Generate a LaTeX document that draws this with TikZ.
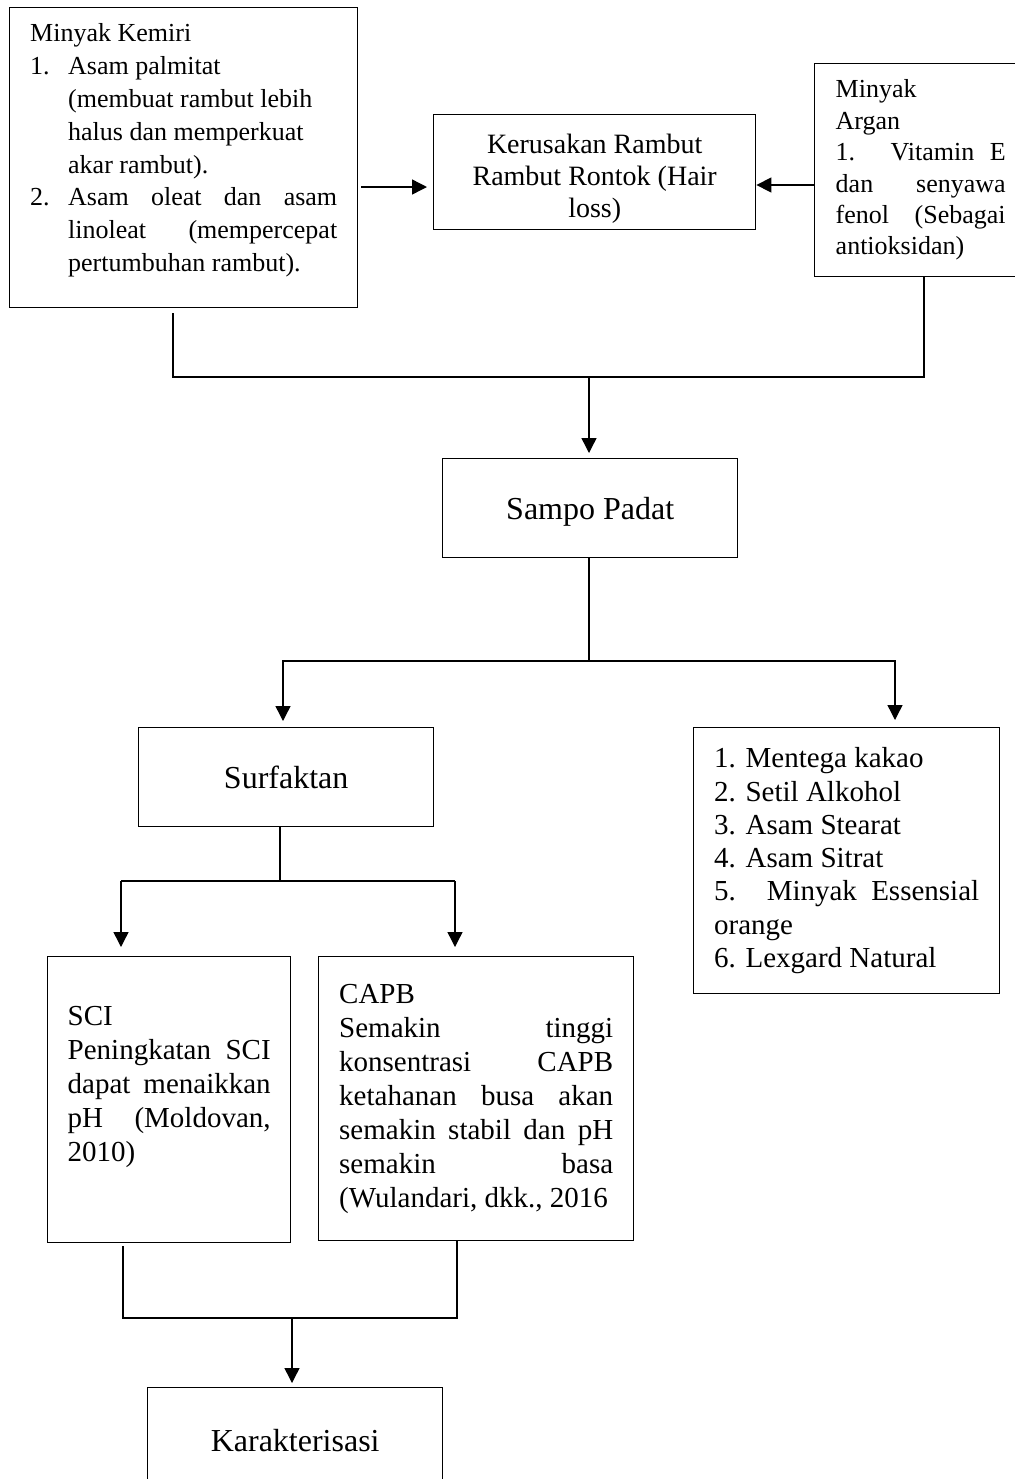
\documentclass[tikz,border=0pt]{standalone}
\usepackage{fontspec}
\setmainfont{Liberation Serif}
\usetikzlibrary{arrows.meta}
\setlength{\parindent}{0pt}

\begin{document}
\begin{tikzpicture}[x=0.5pt, y=-0.5pt,
	box/.style={draw, line width=0.7pt, anchor=north west, inner sep=0pt},
	line/.style={line width=0.7pt},
	arr/.style={line width=0.7pt, -{Triangle[length=7.5pt,width=7.5pt]}}]
	\useasboundingbox (0,0) rectangle (1015,1479);
	\clip (0,0) rectangle (1015,1479);
	% top row
	\node[box, minimum width=174pt, minimum height=150pt, text width=153.5pt, align=justify, font=\fontsize{13}{16.4}\selectfont] (kemiri) at (9,7) {Minyak Kemiri\par
		\hangindent=19pt\hangafter=1 \makebox[19pt][l]{1.}Asam palmitat\newline (membuat rambut lebih\newline halus dan memperkuat\newline akar rambut).\par
		\hangindent=19pt\hangafter=1 \makebox[19pt][l]{2.}Asam oleat dan asam\linebreak linoleat (mempercepat\linebreak pertumbuhan rambut).\rule[-10pt]{0pt}{0pt}\par};
	\node[box, minimum width=161pt, minimum height=57.5pt, align=center, font=\fontsize{14}{16}\selectfont] (kerusakan) at (433,114) {\rule{0pt}{16.5pt}Kerusakan Rambut\\ Rambut Rontok (Hair\\ loss)};
	\node[box, minimum width=106pt, minimum height=106.5pt, text width=85pt, align=justify, font=\fontsize{13}{15.7}\selectfont] (argan) at (814,63) {Minyak\newline Argan\newline 1. Vitamin E\linebreak dan senyawa\linebreak fenol (Sebagai\linebreak antioksidan)};
	% middle
	\node[box, minimum width=147.5pt, minimum height=49.5pt, text depth=0pt, font=\fontsize{16}{19}\selectfont] (sampo) at (442,458) {Sampo Padat};
	\node[box, minimum width=147.5pt, minimum height=49.5pt, font=\fontsize{16}{19}\selectfont] (surf) at (138,727) {Surfaktan};
	\node[box, minimum width=153pt, minimum height=133pt, text width=132.5pt, align=justify, font=\fontsize{14.5}{16.65}\selectfont] (bahan) at (693,727) {1. Mentega kakao\newline 2. Setil Alkohol\newline 3. Asam Stearat\newline 4. Asam Sitrat\newline 5. Minyak Essensial\linebreak orange\newline 6. Lexgard Natural};
	% bottom
	\node[box, minimum width=121.5pt, minimum height=143pt, text width=101.5pt, align=justify, font=\fontsize{14.5}{17}\selectfont] (sci) at (47,956) {SCI\newline Peningkatan SCI\linebreak dapat menaikkan\linebreak pH (Moldovan,\linebreak 2010)\rule[-16pt]{0pt}{0pt}\par};
	\node[box, minimum width=157.5pt, minimum height=142pt, text width=137pt, align=justify, font=\fontsize{14.5}{17}\selectfont] (capb) at (318,956) {CAPB\newline Semakin tinggi\linebreak konsentrasi CAPB\linebreak ketahanan busa akan\linebreak semakin stabil dan pH\linebreak semakin basa\linebreak (Wulandari, dkk., 2016};
	\node[box, minimum width=147.5pt, minimum height=53pt, font=\fontsize{16}{19}\selectfont] (karak) at (147,1387) {Karakterisasi};
	% bus points
	\coordinate (busA) at (589,377); \coordinate (busAl) at (173,377); \coordinate (busAr) at (924,377);
	\coordinate (busB) at (589,661); \coordinate (busBl) at (283,661); \coordinate (busBr) at (895,661);
	\coordinate (busC) at (280,881); \coordinate (busCl) at (121,881); \coordinate (busCr) at (455,881);
	\coordinate (busD) at (292,1318); \coordinate (busDl) at (123,1318); \coordinate (busDr) at (457,1318);
	% connectors
	\draw[arr, shorten <=1.5pt, shorten >=3pt] (kemiri.east |- 0,187) -- (kerusakan.west |- 0,187);
	\draw[arr] (argan.west |- 0,185) -- (kerusakan.east |- 0,185);
	\draw[line, shorten <=2.5pt] (kemiri.south -| busAl) -- (busAl) -- (busAr) -- (argan.south -| busAr);
	\draw[arr, shorten >=2.5pt] (busA) -- (sampo.north -| busA);
	\draw[line] (sampo.south -| busB) -- (busB);
	\draw[arr, shorten >=3pt] (busB) -- (busBl) -- (surf.north -| busBl);
	\draw[arr, shorten >=3.5pt] (busB) -- (busBr) -- (bahan.north -| busBr);
	\draw[line] (surf.south -| busC) -- (busC);
	\draw[line] (busCl) -- (busCr);
	\draw[arr, shorten >=4.5pt] (busCl) -- (sci.north -| busCl);
	\draw[arr, shorten >=4.5pt] (busCr) -- (capb.north -| busCr);
	\draw[line, shorten <=1.5pt] (sci.south -| busDl) -- (busDl) -- (busDr) -- (capb.south -| busDr);
	\draw[arr, shorten >=2pt] (busD) -- (karak.north -| busD);
\end{tikzpicture}
\end{document}
